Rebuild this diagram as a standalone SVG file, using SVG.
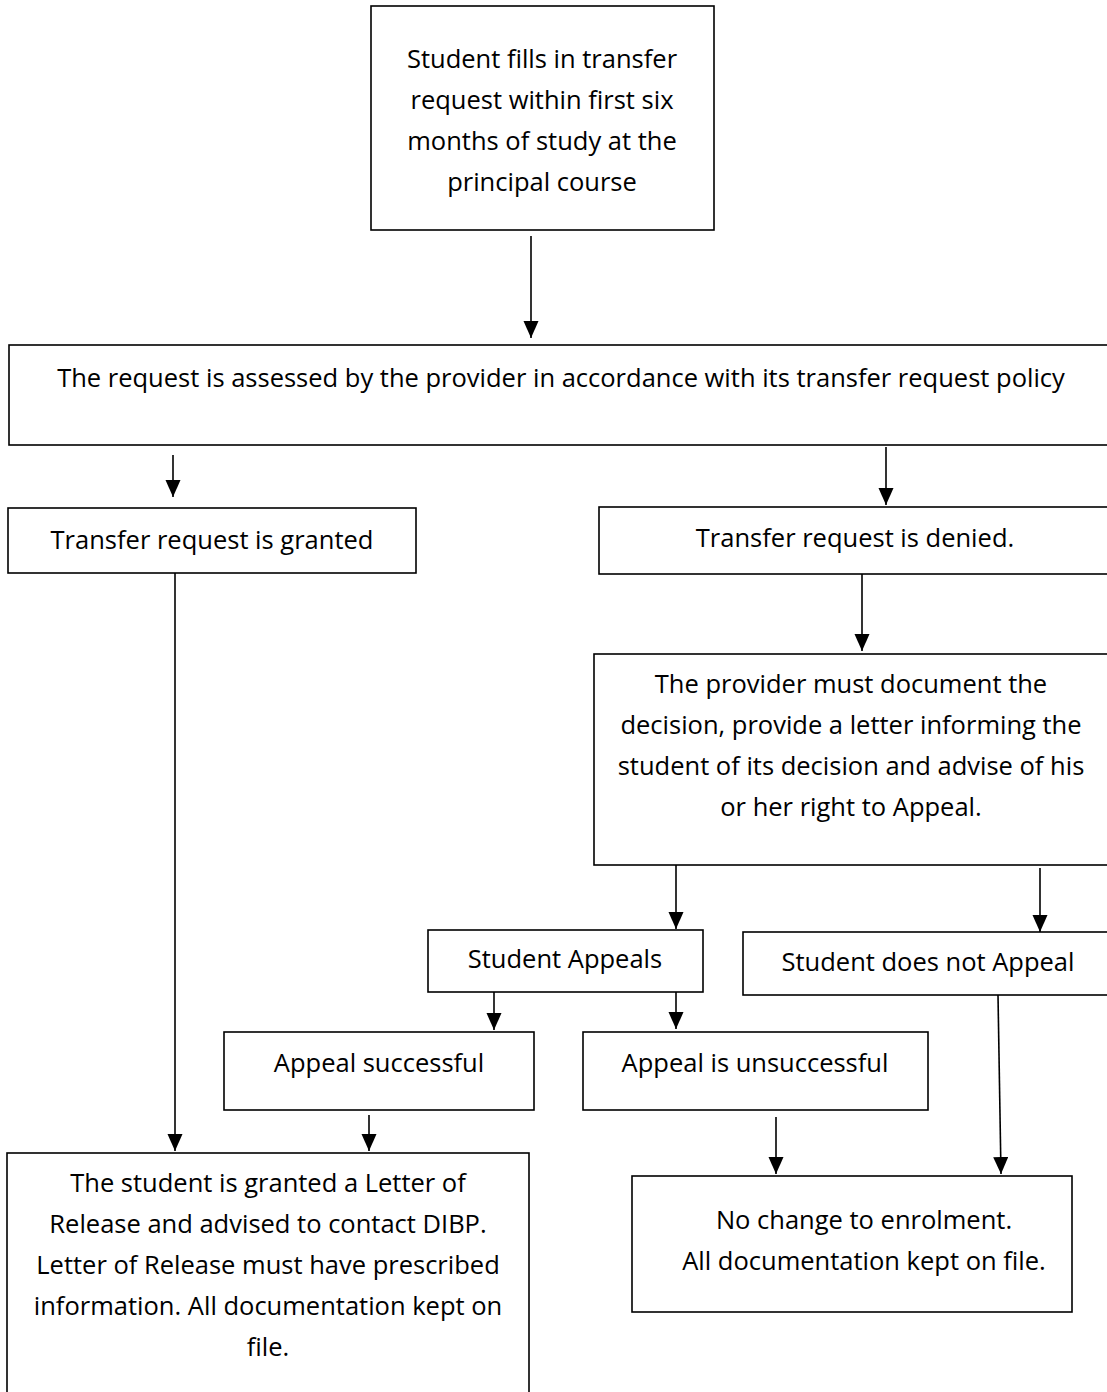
<svg xmlns="http://www.w3.org/2000/svg" width="1107" height="1392" viewBox="0 0 1107 1392">
<style>
.box{fill:#fff;stroke:#000;stroke-width:1.6}
.t{font-family:"Open Sans","Noto Sans","Liberation Sans",sans-serif;font-size:25.5px;fill:#000;text-anchor:middle}
.c{stroke:#000;stroke-width:1.6;fill:none}
</style>
<defs>
<marker id="ah" markerUnits="userSpaceOnUse" markerWidth="18" markerHeight="16" refX="17" refY="7.5" orient="auto" viewBox="0 0 18 16">
<path d="M0,0 L17,7.5 L0,15 z" fill="#000"/>
</marker>
</defs>
<rect width="1107" height="1392" fill="#fff"/>
<g id="n1"><rect class="box" x="371" y="6" width="343" height="224"/>
<text class="t" x="542" y="68">Student fills in transfer</text>
<text class="t" x="542" y="109">request within first six</text>
<text class="t" x="542" y="150">months of study at the</text>
<text class="t" x="542" y="191">principal course</text></g>
<g id="n2"><rect class="box" x="9" y="345" width="1120" height="100"/>
<text class="t" x="561" y="387">The request is assessed by the provider in accordance with its transfer request policy</text></g>
<g id="n3"><rect class="box" x="8" y="508" width="408" height="65"/>
<text class="t" x="212" y="549">Transfer request is granted</text></g>
<g id="n4"><rect class="box" x="599" y="507" width="530" height="67"/>
<text class="t" x="855" y="547">Transfer request is denied.</text></g>
<g id="n5"><rect class="box" x="594" y="654" width="535" height="211"/>
<text class="t" x="851" y="693">The provider must document the</text>
<text class="t" x="851" y="734">decision, provide a letter informing the</text>
<text class="t" x="851" y="775">student of its decision and advise of his</text>
<text class="t" x="851" y="816">or her right to Appeal.</text></g>
<g id="n6"><rect class="box" x="428" y="930" width="275" height="62"/>
<text class="t" x="565" y="968">Student Appeals</text></g>
<g id="n7"><rect class="box" x="743" y="932" width="386" height="63"/>
<text class="t" x="928" y="971">Student does not Appeal</text></g>
<g id="n8"><rect class="box" x="224" y="1032" width="310" height="78"/>
<text class="t" x="379" y="1072">Appeal successful</text></g>
<g id="n9"><rect class="box" x="583" y="1032" width="345" height="78"/>
<text class="t" x="755" y="1072">Appeal is unsuccessful</text></g>
<g id="n10"><rect class="box" x="7" y="1153" width="522" height="260"/>
<text class="t" x="268" y="1192">The student is granted a Letter of</text>
<text class="t" x="268" y="1233">Release and advised to contact DIBP.</text>
<text class="t" x="268" y="1274">Letter of Release must have prescribed</text>
<text class="t" x="268" y="1315">information. All documentation kept on</text>
<text class="t" x="268" y="1356">file.</text></g>
<g id="n11"><rect class="box" x="632" y="1176" width="440" height="136"/>
<text class="t" x="864" y="1229">No change to enrolment.</text>
<text class="t" x="864" y="1270">All documentation kept on file.</text></g>
<g id="connectors">
<line class="c" x1="531" y1="236" x2="531" y2="338" marker-end="url(#ah)"/>
<line class="c" x1="173" y1="455" x2="173" y2="497" marker-end="url(#ah)"/>
<line class="c" x1="886" y1="447" x2="886" y2="505" marker-end="url(#ah)"/>
<line class="c" x1="862" y1="574" x2="862" y2="651" marker-end="url(#ah)"/>
<line class="c" x1="676" y1="865" x2="676" y2="929" marker-end="url(#ah)"/>
<line class="c" x1="1040" y1="868" x2="1040" y2="932" marker-end="url(#ah)"/>
<line class="c" x1="494" y1="992" x2="494" y2="1030" marker-end="url(#ah)"/>
<line class="c" x1="676" y1="992" x2="676" y2="1029" marker-end="url(#ah)"/>
<line class="c" x1="175" y1="573" x2="175" y2="1151" marker-end="url(#ah)"/>
<line class="c" x1="369" y1="1115" x2="369" y2="1151" marker-end="url(#ah)"/>
<line class="c" x1="776" y1="1117" x2="776" y2="1174" marker-end="url(#ah)"/>
<line class="c" x1="998" y1="995" x2="1001" y2="1174" marker-end="url(#ah)"/>
</g>
</svg>
